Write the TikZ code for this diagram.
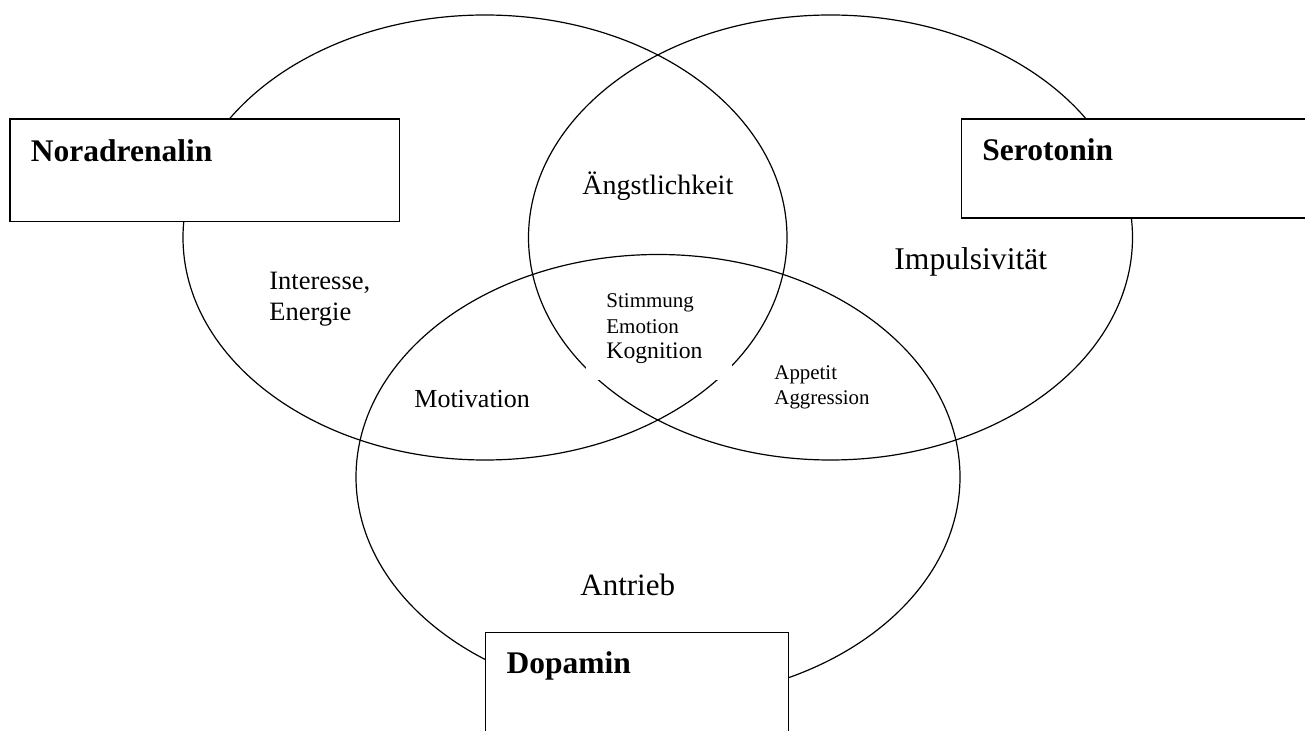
\documentclass[tikz,border=0pt]{standalone}
\usepackage{fontspec}
\setmainfont{Liberation Serif}

\begin{document}
\begin{tikzpicture}[x=0.5pt,y=-0.5pt,
		ring/.style={line width=0.6pt},
		box/.style={draw,fill=white,line width=0.7pt,anchor=north west,inner xsep=10.5pt,inner ysep=0pt,align=left,font=\bfseries\fontsize{15.75}{19}\selectfont},
		lbl/.style={anchor=base west,inner sep=0pt,align=left}]
		\clip (0,0) rectangle (1305,731);
		\draw[ring] (485,237.5) ellipse [x radius=151pt,y radius=111.25pt];
		\draw[ring] (830.5,237.5) ellipse [x radius=151pt,y radius=111.25pt];
		\draw[ring] (658,477) ellipse [x radius=151pt,y radius=111.25pt];
		\node[box,text width=173.7pt,text height=21.2pt,text depth=30pt] (nora) at (9.3,118.3) {Noradrenalin};
		\node[box,text width=179pt,text height=20.85pt,text depth=28.65pt] (sero) at (960.7,118.3) {Serotonin};
		\node[box,text width=130.5pt,text height=20.5pt,text depth=50pt] (dopa) at (485,632) {Dopamin};
		\node[lbl,font=\fontsize{14}{17}\selectfont] (angst) at (582,195) {Ängstlichkeit};
		\node[lbl,font=\fontsize{13.25}{15.5}\selectfont] (interesse) at (269,321) {Interesse,\\Energie};
		\node[lbl,font=\fontsize{15.8}{19}\selectfont] (impuls) at (894,270) {Impulsivität};
		\node[lbl,fill=white,inner xsep=10pt,inner ysep=8pt,text width=53pt,font=\fontsize{10.5}{12.75}\selectfont] (stimmung) at (586,308) {Stimmung\\Emotion\\{\fontsize{11.85}{12.75}\selectfont Kognition}};
		\node[lbl,font=\fontsize{10.45}{12.5}\selectfont] (appetit) at (774,405) {Appetit\\Aggression};
		\node[lbl,font=\fontsize{13}{15.5}\selectfont] (motiv) at (414,408) {Motivation};
		\node[lbl,font=\fontsize{15.5}{19}\selectfont] (antrieb) at (580,595) {Antrieb};
	\end{tikzpicture}
\end{document}
